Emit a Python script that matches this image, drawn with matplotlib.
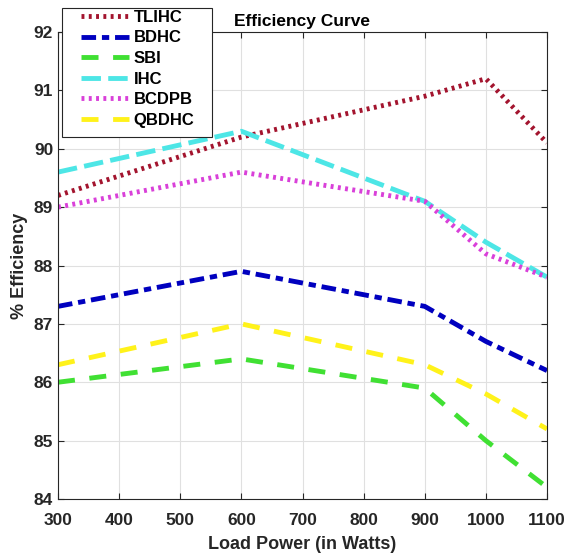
import matplotlib.pyplot as plt
from matplotlib.patches import Rectangle
import numpy as np

plt.rcParams['font.family'] = ['Liberation Sans', 'DejaVu Sans']
plt.rcParams['font.weight'] = 'bold'

load_w = [300, 600, 900, 1000, 1100]
tlihc = [89.2, 90.2, 90.9, 91.2, 90.1]
bdhc = [87.3, 87.9, 87.3, 86.7, 86.2]
sbi = [86.0, 86.4, 85.9, 85.0, 84.2]
ihc = [89.6, 90.3, 89.1, 88.4, 87.8]
bcdpb = [89.0, 89.6, 89.1, 88.2, 87.8]
qbdhc = [86.3, 87.0, 86.3, 85.8, 85.2]

W, H = 568, 558
fig = plt.figure(figsize=(W / 100, H / 100), dpi=100)
ax = fig.add_axes([58 / W, 1 - 499 / H, 489 / W, 467 / H])

dark = (0.15, 0.15, 0.15)
lw = 3.5
ax.plot(load_w, tlihc, color=(0.64, 0.08, 0.18), lw=lw, ls=(0, (0.6, 0.9)), label='TLIHC')
ax.plot(load_w, bdhc, color=(0.0, 0.0, 0.75), lw=lw, ls=(0, (3, 1.2, 1.5, 1.2)), label='BDHC')
ax.plot(load_w, sbi, color=(0.25, 0.88, 0.2), lw=lw, ls=(0, (3.5, 3)), label='SBI')
ax.plot(load_w, ihc, color=(0.3, 0.9, 0.9), lw=lw, ls=(0, (4, 1.5)), label='IHC')
ax.plot(load_w, bcdpb, color=(0.85, 0.25, 0.85), lw=lw, ls=(0, (0.6, 0.9)), label='BCDPB')
ax.plot(load_w, qbdhc, color=(1.0, 0.95, 0.1), lw=lw, ls=(0, (3.5, 3)), label='QBDHC')

ax.set_xlim(300, 1100)
ax.set_ylim(84, 92)
ax.set_xticks(np.arange(300, 1101, 100))
ax.set_yticks(np.arange(84, 93, 1))
ax.grid(True, color=(0.88, 0.88, 0.88), lw=0.8)
ax.set_axisbelow(True)
ax.tick_params(direction='in', top=True, right=True, labelsize=12.5,
               colors=dark, length=4)
ax.tick_params(axis='x', pad=10)
for lab in ax.get_xticklabels() + ax.get_yticklabels():
    lab.set_fontweight('bold')
for sp in ax.spines.values():
    sp.set_color(dark)

ax.set_xlabel('Load Power (in Watts)', fontsize=13, fontweight='bold', color=dark, labelpad=6)
ax.set_ylabel('% Efficiency', fontsize=13, fontweight='bold', color=dark)
ax.set_title('Efficiency Curve', fontsize=12.5, fontweight='bold', pad=4)

# legend box drawn separately so the padding can be wider than tall
leg = ax.legend(loc='upper left', bbox_to_anchor=(81 / W, 1 - 10 / H), bbox_transform=fig.transFigure,
                fontsize=12, frameon=False, handlelength=2.9, handletextpad=0.25,
                borderpad=0, labelspacing=0.33, borderaxespad=0)
leg.set_zorder(6)
frame = Rectangle((62 / W, 1 - 137 / H), 150 / W, 129 / H, transform=fig.transFigure,
                  facecolor='white', edgecolor=dark, lw=0.8, zorder=5)
fig.patches.append(frame)
leg.remove()
fig.add_artist(leg)

fig.savefig('out.png', dpi=100)
